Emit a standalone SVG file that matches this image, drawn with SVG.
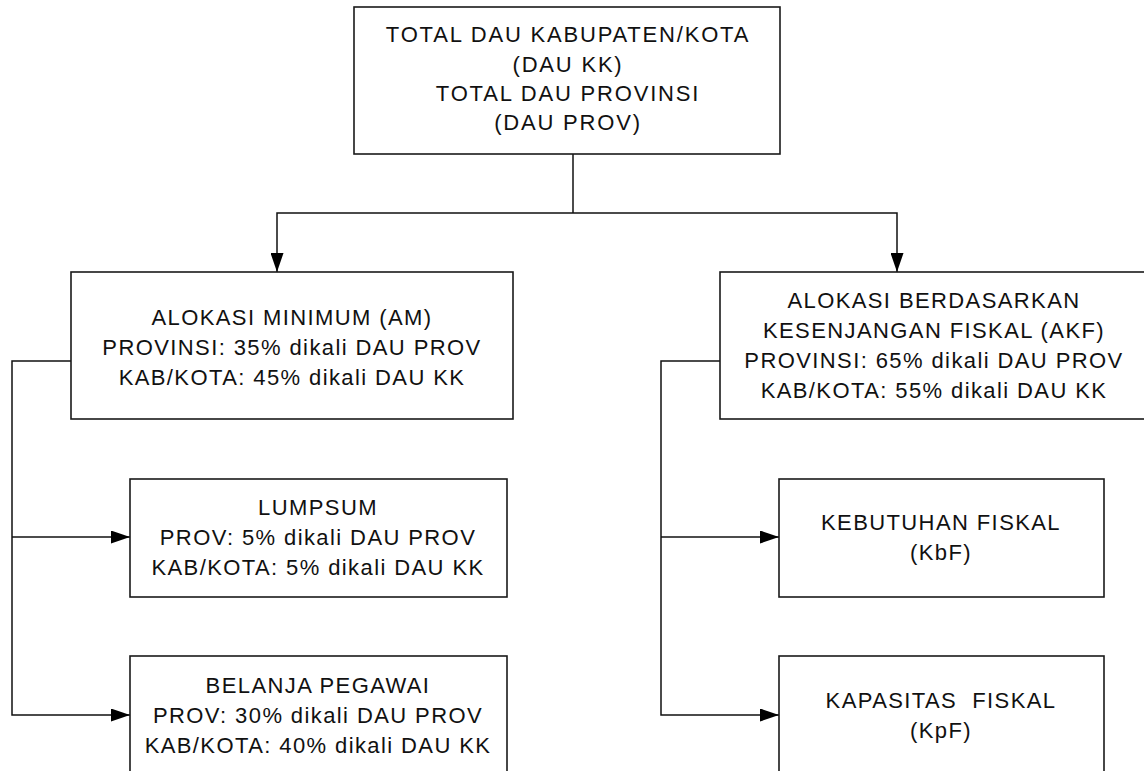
<svg xmlns="http://www.w3.org/2000/svg" width="1144" height="771" viewBox="0 0 1144 771">
<style>
.box{fill:#fff;stroke:#1a1a1a;stroke-width:1.6}
.con{fill:none;stroke:#111;stroke-width:1.5}
text{font-family:"Liberation Sans",Arial,sans-serif;font-size:22px;fill:#111;text-anchor:middle;letter-spacing:1.4px}
.top text{letter-spacing:1.8px}
</style>
<defs>
<marker id="arr" markerUnits="userSpaceOnUse" markerWidth="19" markerHeight="13" refX="19" refY="6.5" orient="auto">
<path d="M0,0 L19,6.5 L0,13 Z" fill="#000"/>
</marker>
</defs>
<rect width="1144" height="771" fill="#fff"/>
<g id="connectors">
<path class="con" d="M573,154 V213"/>
<path class="con" d="M573,213 H277 V272" marker-end="url(#arr)"/>
<path class="con" d="M573,213 H897 V272" marker-end="url(#arr)"/>
<path class="con" d="M71,361 H12 V715 H130" marker-end="url(#arr)"/>
<path class="con" d="M12,537 H130" marker-end="url(#arr)"/>
<path class="con" d="M720,361 H661 V715 H779" marker-end="url(#arr)"/>
<path class="con" d="M661,537 H779" marker-end="url(#arr)"/>
</g>
<g id="total" class="top">
<rect class="box" x="354" y="7" width="426" height="147"/>
<text x="568" y="42">TOTAL DAU KABUPATEN/KOTA</text>
<text x="568" y="72">(DAU KK)</text>
<text x="568" y="101">TOTAL DAU PROVINSI</text>
<text x="568" y="130">(DAU PROV)</text>
</g>
<g id="am">
<rect class="box" x="71" y="272" width="442" height="147"/>
<text x="292" y="325">ALOKASI MINIMUM (AM)</text>
<text x="292" y="355">PROVINSI: 35% dikali DAU PROV</text>
<text x="292" y="385">KAB/KOTA: 45% dikali DAU KK</text>
</g>
<g id="akf">
<rect class="box" x="720" y="272" width="430" height="147"/>
<text x="934" y="308">ALOKASI BERDASARKAN</text>
<text x="934" y="338">KESENJANGAN FISKAL (AKF)</text>
<text x="934" y="368">PROVINSI: 65% dikali DAU PROV</text>
<text x="934" y="398">KAB/KOTA: 55% dikali DAU KK</text>
</g>
<g id="lumpsum">
<rect class="box" x="130" y="479" width="377" height="118"/>
<text x="318" y="515">LUMPSUM</text>
<text x="318" y="545">PROV: 5% dikali DAU PROV</text>
<text x="318" y="575">KAB/KOTA: 5% dikali DAU KK</text>
</g>
<g id="belanja">
<rect class="box" x="130" y="656" width="377" height="134"/>
<text x="318" y="693">BELANJA PEGAWAI</text>
<text x="318" y="723">PROV: 30% dikali DAU PROV</text>
<text x="318" y="753">KAB/KOTA: 40% dikali DAU KK</text>
</g>
<g id="kbf">
<rect class="box" x="779" y="479" width="325" height="118"/>
<text x="941" y="530">KEBUTUHAN FISKAL</text>
<text x="941" y="560">(KbF)</text>
</g>
<g id="kpf">
<rect class="box" x="779" y="656" width="325" height="118"/>
<text x="941" y="708" xml:space="preserve">KAPASITAS  FISKAL</text>
<text x="941" y="738">(KpF)</text>
</g>
</svg>
